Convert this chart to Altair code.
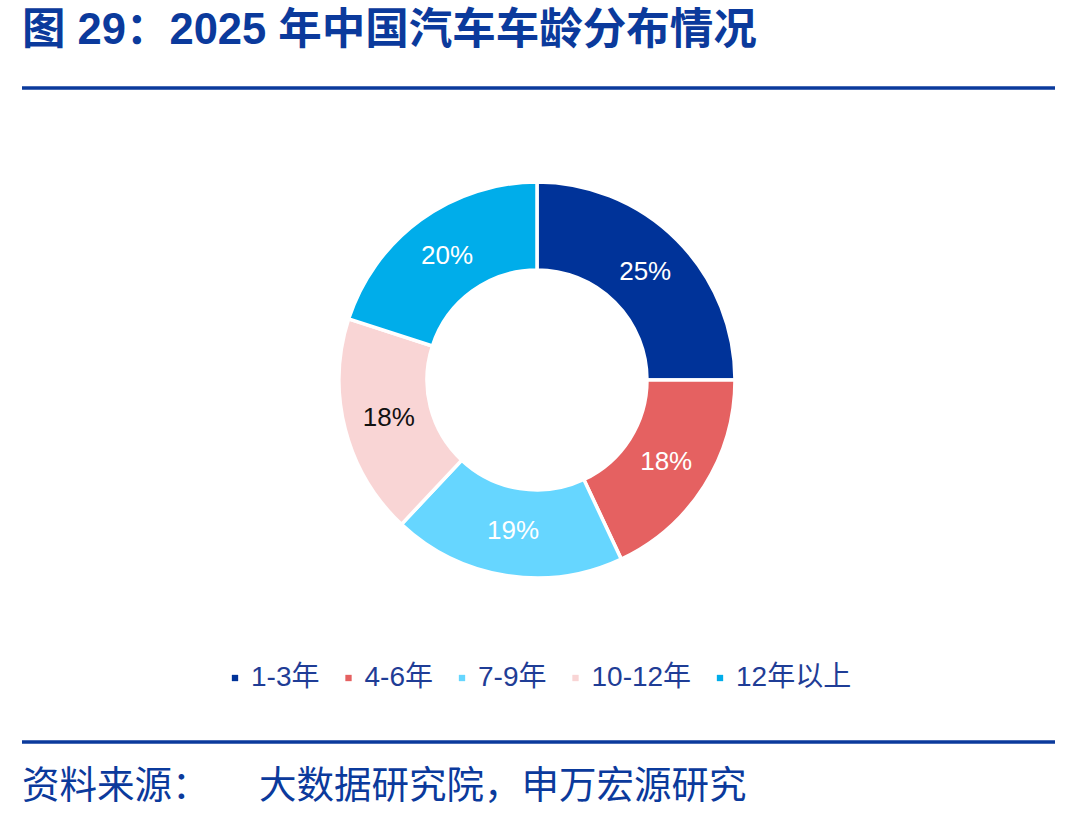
import altair as alt
import pandas as pd

# Vehicle age groups and their share of the 2025 fleet (%)
categories = ["1-3年", "4-6年", "7-9年", "10-12年", "12年以上"]
shares = [25, 18, 19, 18, 20]
slice_colors = ["#003399", "#E56161", "#66D6FF", "#F9D5D5", "#00ADEA"]
label_colors = ["#FFFFFF", "#FFFFFF", "#FFFFFF", "#111111", "#FFFFFF"]

title_text = "图 29：2025 年中国汽车车龄分布情况"
source_head = "资料来源："
source_body = "大数据研究院，申万宏源研究"

BLUE = "#0B3A9C"
LATIN_CJK = "Liberation Sans, Arial, Noto Sans CJK SC"
CJK = "Noto Sans CJK SC, Liberation Sans"

df = pd.DataFrame({
    "group": categories,
    "share": shares,
    "order": list(range(len(categories))),
    "label": [f"{v}%" for v in shares],
    "label_color": label_colors,
})

CX, CY = 537, 380

color_scale = alt.Scale(domain=categories, range=slice_colors)

donut = alt.Chart(df).mark_arc(
    innerRadius=110, outerRadius=198, stroke="white", strokeWidth=3.5
).encode(
    theta=alt.Theta("share:Q", stack=True),
    order=alt.Order("order:Q"),
    color=alt.Color(
        "group:N",
        scale=color_scale,
        sort=categories,
        legend=alt.Legend(
            title=None,
            orient="none",
            direction="horizontal",
            legendX=221,
            legendY=664,
            symbolType="square",
            symbolSize=40,
            symbolStrokeWidth=0,
            labelFontSize=28,
            labelFont=LATIN_CJK,
            labelColor="#1F3D96",
            labelOffset=2,
            columnPadding=14.5,
            padding=0,
        ),
    ),
    x=alt.value(CX),
    y=alt.value(CY),
)

labels = alt.Chart(df).mark_text(
    radius=153, fontSize=26, font=LATIN_CJK, align="center", baseline="middle"
).encode(
    theta=alt.Theta("share:Q", stack=True),
    order=alt.Order("order:Q"),
    text="label:N",
    color=alt.Color("label_color:N", scale=None),
    x=alt.value(CX),
    y=alt.value(CY),
)

title = alt.Chart(pd.DataFrame({"t": [title_text]})).mark_text(
    align="left", baseline="alphabetic", fontSize=43.5, fontWeight="bold",
    font=LATIN_CJK, color=BLUE
).encode(text="t:N", x=alt.value(22), y=alt.value(44))

top_rule = alt.Chart(pd.DataFrame({"k": [0]})).mark_rule(
    color=BLUE, strokeWidth=3.5
).encode(x=alt.value(22), x2=alt.value(1055), y=alt.value(88))

bottom_rule = alt.Chart(pd.DataFrame({"k": [0]})).mark_rule(
    color=BLUE, strokeWidth=3.5
).encode(x=alt.value(22), x2=alt.value(1055), y=alt.value(742))

src_head = alt.Chart(pd.DataFrame({"t": [source_head]})).mark_text(
    align="left", baseline="middle", fontSize=37.5, font=CJK, color=BLUE
).encode(text="t:N", x=alt.value(22), y=alt.value(787))

src_body = alt.Chart(pd.DataFrame({"t": [source_body]})).mark_text(
    align="left", baseline="middle", fontSize=37.5, font=CJK, color=BLUE
).encode(text="t:N", x=alt.value(259), y=alt.value(787))

chart = alt.layer(
    donut, labels, title, top_rule, bottom_rule, src_head, src_body
).properties(
    width=1090, height=820, padding=0, autosize="none", background="white"
).configure_view(stroke=None)

chart.save("out.html", embed_options={"renderer": "svg", "actions": False})
